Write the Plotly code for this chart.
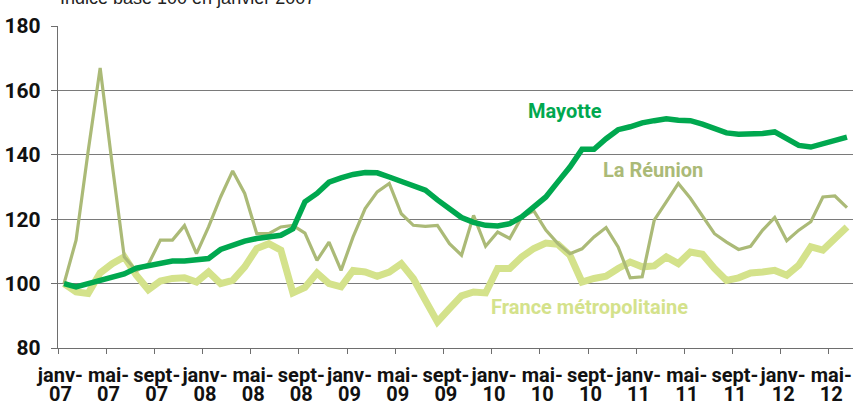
import plotly.graph_objects as go

months = ["janv-07","févr-07","mars-07","avr-07","mai-07","juin-07","juil-07","août-07","sept-07","oct-07","nov-07","déc-07",
          "janv-08","févr-08","mars-08","avr-08","mai-08","juin-08","juil-08","août-08","sept-08","oct-08","nov-08","déc-08",
          "janv-09","févr-09","mars-09","avr-09","mai-09","juin-09","juil-09","août-09","sept-09","oct-09","nov-09","déc-09",
          "janv-10","févr-10","mars-10","avr-10","mai-10","juin-10","juil-10","août-10","sept-10","oct-10","nov-10","déc-10",
          "janv-11","févr-11","mars-11","avr-11","mai-11","juin-11","juil-11","août-11","sept-11","oct-11","nov-11","déc-11",
          "janv-12","févr-12","mars-12","avr-12","mai-12","juin-12"]

mayotte = [100, 99, 100, 101, 102, 103, 104.8, 105.5, 106.2, 107, 107, 107.5,
           107.8, 110.6, 111.9, 113.2, 114, 114.5, 115, 117, 125.4, 128, 131.5, 132.8,
           133.9, 134.5, 134.4, 133.1, 131.6, 130.5, 129, 126, 123, 120.5, 119, 118.1,
           117.9, 118.6, 120.7, 123.8, 126.9, 131.6, 136.2, 141.7, 141.7, 145, 147.8, 148.7,
           149.9, 150.6, 151.2, 150.7, 150.6, 149.5, 148.1, 146.8, 146.4, 146.4, 146.6, 147.1,
           145, 142.9, 142.4, 143.5, 144.5, 145.5]

reunion = [100, 113.5, 141, 167, 137, 108.3, 104, 106, 113.5, 113.5, 118, 109.3,
           117.6, 126.9, 135, 128, 115.5, 115.5, 117.6, 118.1, 115.7, 107.2, 112.9, 104.1,
           114.5, 123.3, 128.5, 131.1, 121.7, 118.1, 117.8, 118.1, 112.4, 108.8, 121.2, 111.6,
           116, 114, 120.7, 122.6, 116.6, 112.4, 109.3, 110.8, 114.5, 117.4, 111.4, 101.8,
           102.1, 119.7, 125.4, 131.1, 126.5, 121.2, 115.5, 112.9, 110.6, 111.6, 116.6, 120.5,
           113.3, 116.6, 119.2, 126.9, 127.2, 123.6]

france = [100, 97.4, 96.9, 103.3, 106.2, 108.3, 102.6, 98.1, 100.8, 101.6, 101.8, 100.5,
          103.6, 100, 101, 105.2, 110.9, 112.4, 110.4, 97.1, 98.8, 103.3, 100, 99,
          104.1, 103.6, 102.3, 103.6, 106.2, 101.6, 94.8, 88.1, 92.2, 96.2, 97.4, 97.1,
          104.7, 104.7, 108.3, 110.9, 112.6, 112.2, 108.8, 100.5, 101.6, 102.3, 104.7, 106.7,
          105.2, 105.5, 108.3, 106.2, 109.8, 109.1, 104.7, 101, 101.8, 103.3, 103.6, 104.1,
          102.6, 105.7, 111.4, 110.4, 114, 117.6]

tick_idx = list(range(0, 66, 4))
tick_top = [months[i].split("-")[0] + "-" for i in tick_idx]
tick_bottom = [months[i].split("-")[1] for i in tick_idx]

series_names = ["Mayotte", "La Réunion", "France métropolitaine"]
y_ticks = [80, 100, 120, 140, 160, 180]

C_MAY = "#00a84f"
C_REU = "#abba77"
C_FRA = "#d4e28b"
FONT = "Roboto, Liberation Sans, sans-serif"

x = list(range(len(months)))

fig = go.Figure()
fig.add_trace(go.Scatter(x=x, y=france, mode="lines", name=series_names[2],
                         line=dict(color=C_FRA, width=7)))
fig.add_trace(go.Scatter(x=x, y=reunion, mode="lines", name=series_names[1],
                         line=dict(color=C_REU, width=3.2)))
fig.add_trace(go.Scatter(x=x, y=mayotte, mode="lines", name=series_names[0],
                         line=dict(color=C_MAY, width=5.5)))

# second x axis carries the second line of the tick labels
fig.add_trace(go.Scatter(x=[x[0]], y=[mayotte[0]], xaxis="x2", mode="lines",
                         showlegend=False, hoverinfo="skip", line=dict(width=0)))

lbl_font = dict(family=FONT, size=20, color="#111111", weight="bold")

fig.update_layout(
    width=855, height=406,
    margin=dict(l=58, r=2, t=25.5, b=58.3),
    paper_bgcolor="white", plot_bgcolor="white",
    showlegend=False,
    xaxis=dict(
        range=[-0.5, 65.5], tickmode="array", automargin=False, tickangle=0,
        tickvals=[i - 0.3 for i in tick_idx], ticktext=tick_top,
        ticks="", showgrid=False, zeroline=False,
        showline=True, linecolor="#6e6e6e", linewidth=1.3,
        tickfont=lbl_font, ticklabelstandoff=9,
        minor=dict(tickmode="linear", tick0=-0.5, dtick=4, ticks="outside",
                   ticklen=5, tickcolor="#6e6e6e", tickwidth=1.2, showgrid=False),
    ),
    xaxis2=dict(
        range=[-0.5, 65.5], overlaying="x", side="bottom", anchor="y",
        automargin=False, tickangle=0,
        tickmode="array", tickvals=[i - 0.3 for i in tick_idx], ticktext=tick_bottom,
        ticks="", showgrid=False, zeroline=False, showline=False,
        tickfont=lbl_font, ticklabelstandoff=32,
    ),
    yaxis=dict(
        range=[80, 180], tickmode="array", tickvals=y_ticks, automargin=False,
        ticks="outside", ticklen=6, tickcolor="#6e6e6e", tickwidth=1.2,
        showgrid=True, gridcolor="#7a7a7a", gridwidth=1.3,
        zeroline=False, showline=True, linecolor="#6e6e6e", linewidth=1.3,
        tickfont=dict(family=FONT, size=21, color="#111111", weight="bold"),
        ticklabelstandoff=6,
    ),
    annotations=[
        dict(x=41.6, y=153.7, xref="x", yref="y", text=series_names[0], showarrow=False,
             font=dict(family=FONT, size=20, color=C_MAY, weight="bold")),
        dict(x=48.9, y=135.2, xref="x", yref="y", text=series_names[1], showarrow=False,
             font=dict(family=FONT, size=20, color=C_REU, weight="bold")),
        dict(x=43.65, y=92.6, xref="x", yref="y", text=series_names[2], showarrow=False,
             font=dict(family=FONT, size=20, color=C_FRA, weight="bold")),
        dict(x=0.0, y=1.049, xref="paper", yref="paper", xanchor="left", yanchor="bottom",
             text="Indice base 100 en janvier 2007", showarrow=False,
             font=dict(family="Liberation Sans, Arial, sans-serif", size=18, color="#222222")),
    ],
)

fig.write_html("out.html", config={"displayModeBar": False},
               post_script="document.body.style.margin='0';document.body.style.overflow='hidden';")
